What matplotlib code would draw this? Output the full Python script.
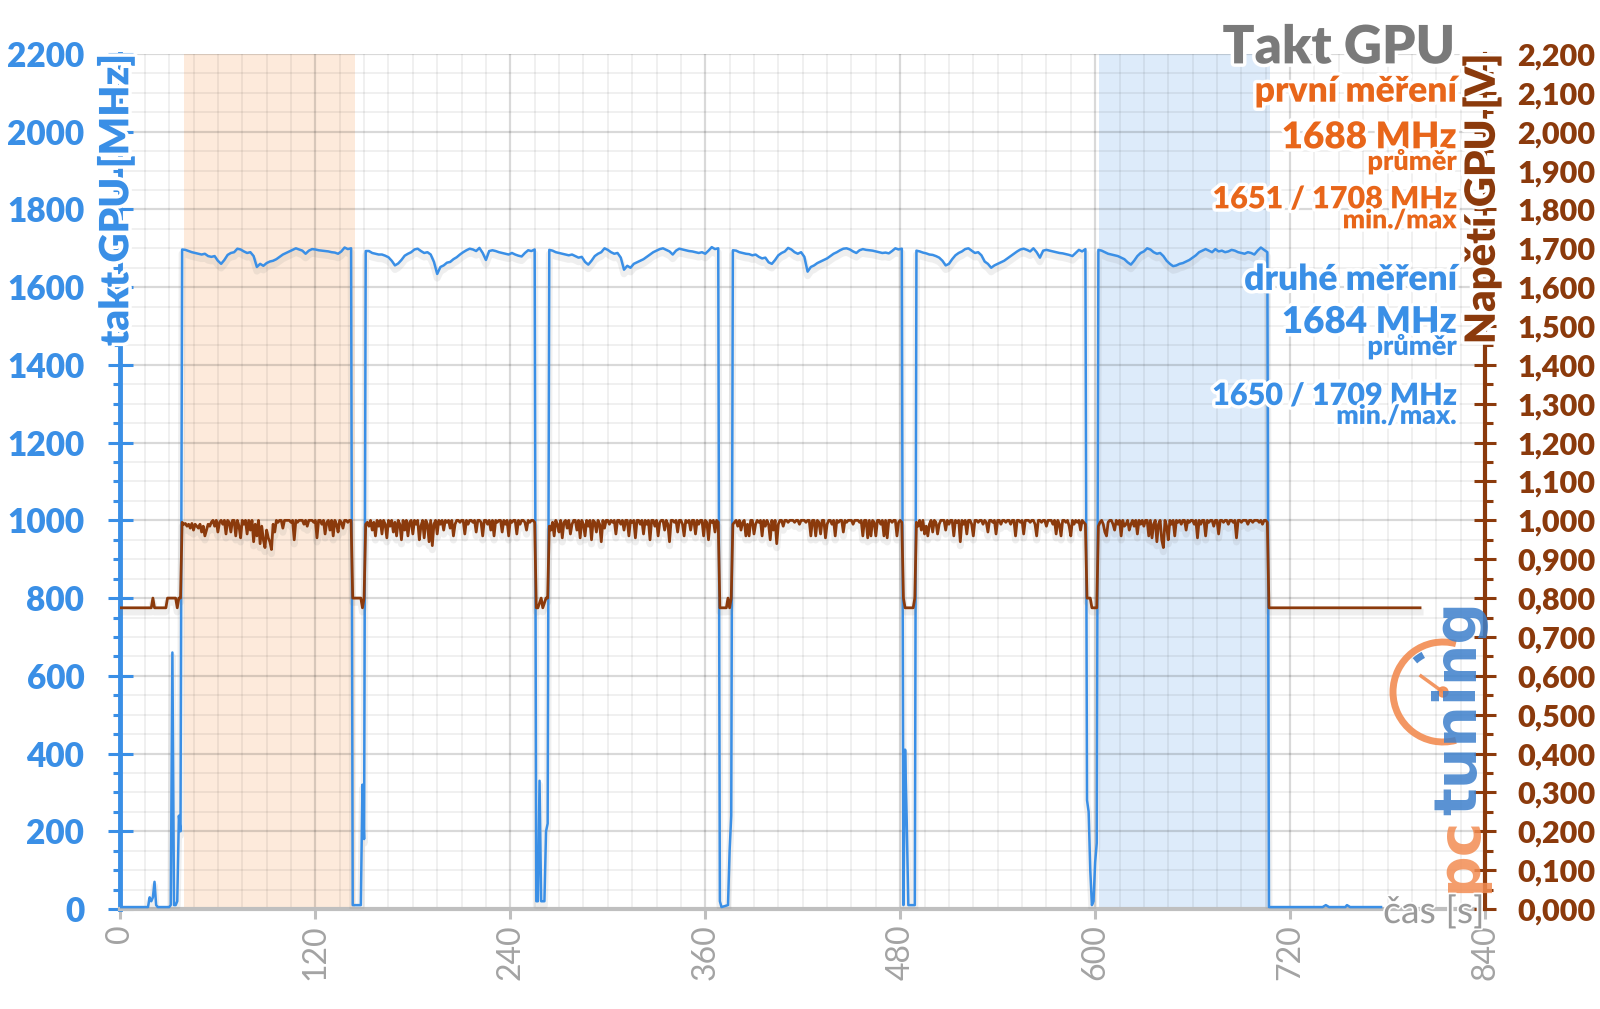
import matplotlib
matplotlib.use("Agg")
import matplotlib.pyplot as plt
import matplotlib.patheffects as pe
from matplotlib.patches import Arc, Circle
from matplotlib.ticker import MultipleLocator
import numpy as np

plt.rcParams["font.family"] = ["Lato", "Open Sans", "DejaVu Sans"]

# ── colours ──────────────────────────────────────────────────────────────────
BLUE = "#3A8FE6"
ORANGE = "#E8661A"
BROWN = "#8B3A0C"
GRAY_TITLE = "#7A7A7A"
GRAY_AXIS = "#BFBFBF"
GRAY_TICK = "#A3A3A3"
LOGO_ORANGE = "#F28C52"
LOGO_BLUE = "#3C7FCB"

# ── data ─────────────────────────────────────────────────────────────────────
# start of each load run [s]; clock sampled every 2 s, voltage every 1 s
run_starts = [38, 151, 264, 377, 490, 602]

clock_run1 = [1697, 1696, 1693, 1690, 1688, 1686, 1684, 1686, 1680, 1678,
              1680, 1668, 1660, 1670, 1683, 1688, 1690, 1699, 1697, 1692,
              1688, 1690, 1680, 1652, 1660, 1655, 1662, 1666, 1668, 1672,
              1678, 1684, 1688, 1692, 1696, 1700, 1697, 1694, 1686, 1694,
              1698, 1697, 1695, 1694, 1693, 1692, 1690, 1689, 1686, 1692,
              1702, 1698, 1700]
clock_run2 = [1693, 1693, 1688, 1686, 1684, 1684, 1681, 1677, 1668, 1656,
              1661, 1670, 1681, 1686, 1690, 1697, 1699, 1693, 1688, 1690,
              1684, 1665, 1634, 1652, 1656, 1663, 1665, 1672, 1677, 1684,
              1690, 1695, 1699, 1697, 1693, 1701, 1688, 1670, 1693, 1695,
              1693, 1690, 1688, 1686, 1684, 1688, 1684, 1681, 1679, 1688,
              1695, 1693, 1697]
clock_run3 = [1696, 1694, 1690, 1688, 1686, 1684, 1682, 1684, 1680, 1676,
              1678, 1665, 1658, 1668, 1680, 1686, 1690, 1700, 1696, 1690,
              1686, 1688, 1676, 1645, 1655, 1650, 1660, 1664, 1668, 1672,
              1678, 1684, 1690, 1694, 1698, 1700, 1696, 1692, 1684, 1694,
              1699, 1697, 1695, 1693, 1692, 1690, 1688, 1690, 1686, 1694,
              1703, 1698, 1700]
clock_run4 = [1695, 1694, 1690, 1688, 1686, 1685, 1682, 1684, 1678, 1674,
              1676, 1664, 1660, 1670, 1682, 1688, 1692, 1701, 1697, 1690,
              1686, 1690, 1678, 1640, 1652, 1656, 1662, 1666, 1670, 1674,
              1680, 1686, 1690, 1695, 1699, 1700, 1697, 1692, 1688, 1695,
              1698, 1696, 1695, 1694, 1692, 1690, 1688, 1689, 1687, 1693,
              1700, 1697, 1699]
clock_run5 = [1694, 1692, 1689, 1687, 1684, 1683, 1680, 1676, 1668, 1656,
              1660, 1672, 1682, 1688, 1692, 1698, 1700, 1694, 1688, 1690,
              1682, 1666, 1660, 1650, 1656, 1660, 1664, 1668, 1674, 1680,
              1686, 1692, 1697, 1699, 1696, 1692, 1700, 1690, 1676, 1694,
              1696, 1694, 1692, 1690, 1688, 1687, 1685, 1683, 1680, 1688,
              1696, 1692, 1698]
clock_run6 = [1696, 1694, 1690, 1686, 1684, 1682, 1680, 1676, 1672, 1664,
              1658, 1668, 1680, 1688, 1692, 1700, 1697, 1690, 1686, 1688,
              1680, 1668, 1660, 1654, 1656, 1660, 1662, 1666, 1670, 1676,
              1682, 1690, 1694, 1698, 1694, 1690, 1698, 1692, 1694, 1690,
              1692, 1696, 1694, 1690, 1688, 1686, 1690, 1688, 1684, 1694,
              1702, 1696, 1690]

# idle stretches before / between / after the runs
clock_idle_t = [
    [0, 17, 18, 19, 20, 21, 22, 23, 30, 31, 32, 33, 34, 35, 36, 37],
    [143, 144, 148, 149, 150],
    [256, 257, 258, 259, 261, 262, 263],
    [369, 370, 374, 375, 376],
    [482, 483, 484, 485, 489],
    [595, 596, 597, 598, 599, 600, 601],
    [707, 740, 742, 744, 754, 755, 757, 776],
]
clock_idle_mhz = [
    [5, 5, 30, 20, 30, 70, 10, 5, 5, 10, 660, 10, 10, 20, 240, 200],
    [10, 10, 10, 320, 180],
    [20, 20, 330, 20, 20, 200, 220],
    [20, 5, 10, 150, 240],
    [10, 410, 230, 10, 10],
    [280, 250, 100, 10, 20, 120, 170],
    [5, 5, 10, 5, 5, 10, 5, 5],
]

# GPU voltage in mV
volt_run1 = [995, 990, 992, 985, 990, 980, 992, 975, 990, 985,
             980, 990, 970, 985, 960, 975, 990, 985, 995, 1000,
             985, 1000, 970, 995, 1000, 990, 1000, 965, 1000, 995,
             970, 1000, 1000, 960, 1000, 985, 955, 1000, 990, 1000,
             965, 1000, 975, 1000, 945, 990, 960, 1000, 940, 985,
             950, 930, 975, 955, 945, 925, 990, 970, 1000, 995,
             1000, 1000, 980, 1000, 1000, 1000, 1000, 995, 1000, 950,
             1000, 995, 1000, 1000, 1000, 990, 1000, 985, 1000, 1000,
             1000, 995, 1000, 955, 1000, 1000, 990, 1000, 965, 995,
             1000, 975, 1000, 960, 1000, 990, 970, 1000, 995, 980,
             1000, 1000, 995, 1000, 1000]
volt_run2 = [990, 995, 985, 1000, 975, 995, 960, 1000, 985, 1000,
             965, 1000, 990, 955, 1000, 985, 1000, 970, 995, 960,
             1000, 990, 950, 1000, 975, 1000, 960, 995, 1000, 965,
             1000, 990, 1000, 950, 985, 1000, 955, 1000, 990, 945,
             1000, 935, 990, 1000, 965, 1000, 990, 1000, 975, 1000,
             995, 1000, 980, 1000, 960, 990, 1000, 1000, 995, 1000,
             1000, 965, 1000, 990, 1000, 1000, 995, 1000, 970, 1000,
             1000, 995, 960, 1000, 1000, 990, 1000, 975, 1000, 960,
             1000, 995, 1000, 1000, 970, 1000, 990, 1000, 960, 1000,
             995, 1000, 1000, 965, 1000, 990, 1000, 1000, 995, 975,
             1000, 995, 1000, 1000, 995]
volt_run3 = [985, 975, 995, 960, 1000, 990, 970, 1000, 955, 995,
             1000, 980, 1000, 965, 990, 1000, 1000, 975, 1000, 955,
             1000, 990, 960, 1000, 985, 1000, 950, 1000, 995, 970,
             1000, 990, 945, 1000, 980, 1000, 1000, 990, 1000, 995,
             1000, 965, 1000, 1000, 990, 1000, 975, 1000, 1000, 960,
             1000, 995, 1000, 955, 1000, 1000, 990, 1000, 965, 1000,
             990, 1000, 950, 1000, 1000, 985, 1000, 960, 995, 1000,
             1000, 975, 1000, 990, 945, 1000, 1000, 995, 1000, 970,
             1000, 1000, 990, 960, 1000, 995, 1000, 975, 1000, 1000,
             965, 1000, 990, 1000, 1000, 960, 1000, 995, 950, 1000,
             995, 1000, 970, 1000, 995]
volt_run4 = [990, 995, 1000, 985, 1000, 975, 995, 1000, 960, 990,
             960, 1000, 1000, 965, 990, 1000, 995, 1000, 960, 1000,
             985, 1000, 990, 950, 1000, 975, 1000, 940, 990, 1000,
             1000, 985, 1000, 1000, 995, 1000, 1000, 1000, 995, 1000,
             1000, 990, 1000, 1000, 1000, 995, 1000, 1000, 960, 1000,
             1000, 960, 1000, 995, 965, 1000, 1000, 955, 990, 1000,
             1000, 990, 1000, 960, 1000, 995, 1000, 1000, 970, 1000,
             995, 1000, 1000, 1000, 990, 1000, 1000, 1000, 995, 1000,
             960, 1000, 1000, 955, 1000, 960, 1000, 995, 960, 1000,
             1000, 990, 1000, 960, 1000, 955, 1000, 1000, 995, 1000,
             1000, 960, 995, 1000, 995]
volt_run5 = [995, 985, 1000, 975, 1000, 965, 985, 960, 990, 1000,
             970, 1000, 995, 965, 990, 1000, 1000, 1000, 975, 1000,
             990, 1000, 1000, 960, 1000, 995, 1000, 945, 1000, 990,
             1000, 965, 1000, 1000, 990, 960, 1000, 1000, 995, 1000,
             1000, 990, 1000, 995, 970, 1000, 1000, 995, 1000, 965,
             1000, 1000, 990, 1000, 1000, 995, 1000, 1000, 990, 1000,
             1000, 960, 1000, 1000, 995, 1000, 965, 1000, 1000, 1000,
             995, 1000, 1000, 990, 960, 1000, 1000, 995, 1000, 1000,
             985, 1000, 1000, 1000, 990, 1000, 965, 1000, 990, 960,
             1000, 1000, 995, 1000, 985, 960, 1000, 990, 1000, 995,
             1000, 975, 1000, 995, 990]
volt_run6 = [985, 995, 1000, 990, 970, 960, 995, 1000, 1000, 990,
             975, 1000, 990, 1000, 960, 1000, 985, 990, 1000, 975,
             990, 1000, 985, 1000, 965, 1000, 990, 1000, 985, 1000,
             1000, 960, 1000, 955, 990, 1000, 945, 990, 1000, 950,
             930, 1000, 985, 950, 1000, 990, 1000, 960, 1000, 995,
             1000, 990, 1000, 1000, 975, 1000, 995, 1000, 1000, 990,
             1000, 955, 1000, 990, 1000, 1000, 960, 1000, 995, 1000,
             1000, 985, 1000, 1000, 965, 1000, 1000, 995, 1000, 1000,
             990, 1000, 1000, 995, 1000, 955, 1000, 1000, 995, 1000,
             1000, 1000, 990, 1000, 1000, 995, 1000, 1000, 1000, 995,
             1000, 990, 1000, 1000, 995]

volt_idle_t = [
    [0, 19, 20, 21, 28, 29, 34, 35, 36, 37],
    [143, 148, 149, 150],
    [256, 257, 259, 260, 262, 263],
    [369, 370, 373, 374, 375, 376],
    [482, 483, 484, 488, 489],
    [595, 597, 598, 601],
    [707, 800],
]
volt_idle_mv = [
    [775, 775, 800, 775, 775, 800, 800, 775, 800, 800],
    [800, 800, 775, 800],
    [775, 775, 800, 775, 800, 800],
    [775, 775, 775, 800, 775, 800],
    [800, 775, 775, 775, 800],
    [800, 800, 775, 775],
    [775, 775],
]

# highlighted windows [s]
span_first = (39, 144.5)
span_second = (602.5, 707.5)

y_ticks_mhz = list(range(0, 2201, 200))
y_ticks_v = [i / 10 for i in range(0, 23)]
x_ticks_s = list(range(0, 841, 120))

clock_runs = [clock_run1, clock_run2, clock_run3, clock_run4, clock_run5, clock_run6]
volt_runs = [volt_run1, volt_run2, volt_run3, volt_run4, volt_run5, volt_run6]


def build_series(runs, step, idle_t, idle_v, scale=1.0):
    t, v = [], []
    for i in range(len(idle_t)):
        t += list(idle_t[i])
        v += list(idle_v[i])
        if i < len(runs):
            t += list(run_starts[i] + step * np.arange(len(runs[i])))
            v += list(runs[i])
    return np.array(t, float), np.array(v, float) * scale


clock_t, clock_v = build_series(clock_runs, 2, clock_idle_t, clock_idle_mhz)
volt_t, volt_v = build_series(volt_runs, 1, volt_idle_t, volt_idle_mv, scale=0.001)

# ── figure ───────────────────────────────────────────────────────────────────
fig = plt.figure(figsize=(16, 10.09), dpi=100)
ax = fig.add_axes([0.07525, 0.0991, 0.8529, 0.8474])
ax2 = ax.twinx()

ax.set_xlim(0, 840)
ax.set_ylim(0, 2200)
ax2.set_ylim(0, 2.2)

ax.axvspan(*span_first, color="#FDEADB", zorder=0, lw=0)
ax.axvspan(*span_second, color="#DDEBFA", zorder=0, lw=0)

# grid
ax.set_axisbelow(True)
ax.xaxis.set_minor_locator(MultipleLocator(15))
ax.yaxis.set_minor_locator(MultipleLocator(50))
ax.grid(which="major", color="black", alpha=0.15, linewidth=1.6)
ax.grid(which="minor", color="black", alpha=0.07, linewidth=1.2)

shadow = [pe.SimpleLineShadow(offset=(0, -3), shadow_color="#808080", alpha=0.12, linewidth=5),
          pe.Normal()]
ax.plot(clock_t, clock_v, color=BLUE, linewidth=1.8, zorder=3, path_effects=shadow)
ax2.plot(volt_t, volt_v, color=BROWN, linewidth=2.0, zorder=3, path_effects=shadow)

# spines
ax.spines["top"].set_visible(False)
ax.spines["right"].set_visible(False)
ax.spines["left"].set_color(BLUE)
ax.spines["left"].set_linewidth(3.5)
ax.spines["bottom"].set_color(GRAY_AXIS)
ax.spines["bottom"].set_linewidth(3)
for s in ["top", "left", "bottom"]:
    ax2.spines[s].set_visible(False)
ax2.spines["right"].set_color(BROWN)
ax2.spines["right"].set_linewidth(3)

# ticks
ax.set_xticks(x_ticks_s)
ax.set_xticklabels([str(v) for v in x_ticks_s], rotation=90, color=GRAY_TICK, fontsize=23)
ax.tick_params(axis="x", which="major", direction="out", length=7, width=2.2,
               color=GRAY_AXIS, pad=4)
ax.tick_params(axis="x", which="minor", length=0)

ax.set_yticks(y_ticks_mhz)
ax.set_yticklabels([str(v) for v in y_ticks_mhz], color=BLUE, fontsize=24, fontweight="heavy")
ax.tick_params(axis="y", which="major", direction="inout", length=18, width=2.2,
               color=BLUE, pad=17)
ax.tick_params(axis="y", which="minor", direction="out", length=5, width=2.2, color=BLUE)

ax2.set_yticks(y_ticks_v)
ax2.set_yticklabels([f"{v:.3f}".replace(".", ",") for v in y_ticks_v],
                    color=BROWN, fontsize=22, fontweight="heavy")
ax2.yaxis.set_minor_locator(MultipleLocator(0.05))
ax2.tick_params(axis="y", which="major", direction="inout", length=16, width=2.2,
                color=BROWN, pad=15)
ax2.tick_params(axis="y", which="minor", direction="out", length=6, width=2.2, color=BROWN)

halo = [pe.withStroke(linewidth=5, foreground="white")]

# axis titles
ax.text(-0.003, 1.0, "takt GPU [MHz]", transform=ax.transAxes, rotation=90,
        ha="center", va="top", color=BLUE, fontsize=29, fontweight="heavy",
        path_effects=halo, zorder=20, clip_on=False)
ax2.text(0.998, 1.0, "Napětí GPU [V]", transform=ax2.transAxes, rotation=90,
         ha="center", va="top", color=BROWN, fontsize=30, fontweight="heavy",
         path_effects=halo, zorder=20, clip_on=False)

# info block
ax2.text(0.9778, 0.989, "Takt GPU", transform=ax2.transAxes, ha="right", va="baseline",
         color=GRAY_TITLE, fontsize=38, fontweight="heavy", path_effects=halo, zorder=20)
info = [
    ("první měření", 0.9442, 25.5, ORANGE),
    ("1688 MHz", 0.8897, 26.5, ORANGE),
    ("průměr", 0.8643, 19.5, ORANGE),
    ("1651 / 1708 MHz", 0.8195, 22, ORANGE),
    ("min./max", 0.7961, 19, ORANGE),
    ("druhé měření", 0.7240, 25.5, BLUE),
    ("1684 MHz", 0.6737, 26.5, BLUE),
    ("průměr", 0.6480, 19.5, BLUE),
    ("1650 / 1709 MHz", 0.5895, 22, BLUE),
    ("min./max.", 0.5673, 19, BLUE),
]
for txt, yy, size, col in info:
    ax2.text(0.9792, yy, txt, transform=ax2.transAxes, ha="right", va="baseline",
             color=col, fontsize=size, fontweight="heavy", path_effects=halo, zorder=20)

# pctuning logo
lax = fig.add_axes([1380 / 1600, 94 / 1009, 120 / 1600, 335 / 1009])
lax.set_xlim(1380, 1500)
lax.set_ylim(94, 429)
lax.axis("off")
lax.add_patch(Arc((1443, 317), 100, 100, theta1=75, theta2=285, color=LOGO_ORANGE,
                  lw=5, alpha=0.9))
lax.add_patch(Arc((1443, 317), 84, 84, theta1=118, theta2=132, color=LOGO_BLUE,
                  lw=5, alpha=0.9))
lax.plot([1443, 1421], [317, 333], color=LOGO_ORANGE, lw=2.5, alpha=0.9)
lax.add_patch(Circle((1443, 317), 5, color=LOGO_ORANGE, alpha=0.9))
lax.text(1476, 116, "pc", rotation=90, rotation_mode="anchor", ha="left", va="baseline",
         color=LOGO_ORANGE, fontsize=42, fontweight="bold", family="DejaVu Sans", alpha=0.85)
lax.text(1476, 194, "tuning", rotation=90, rotation_mode="anchor", ha="left", va="baseline",
         color=LOGO_BLUE, fontsize=42, fontweight="bold", family="DejaVu Sans", alpha=0.85)

# x-axis title sits on the axis line, above the logo
fig.text(0.928, 0.0961, "čas [s]", ha="right", va="center", color="#9A9A9A", fontsize=27,
         path_effects=[pe.withStroke(linewidth=2.5, foreground="white")], zorder=30)

fig.savefig("out.png", dpi=100)
